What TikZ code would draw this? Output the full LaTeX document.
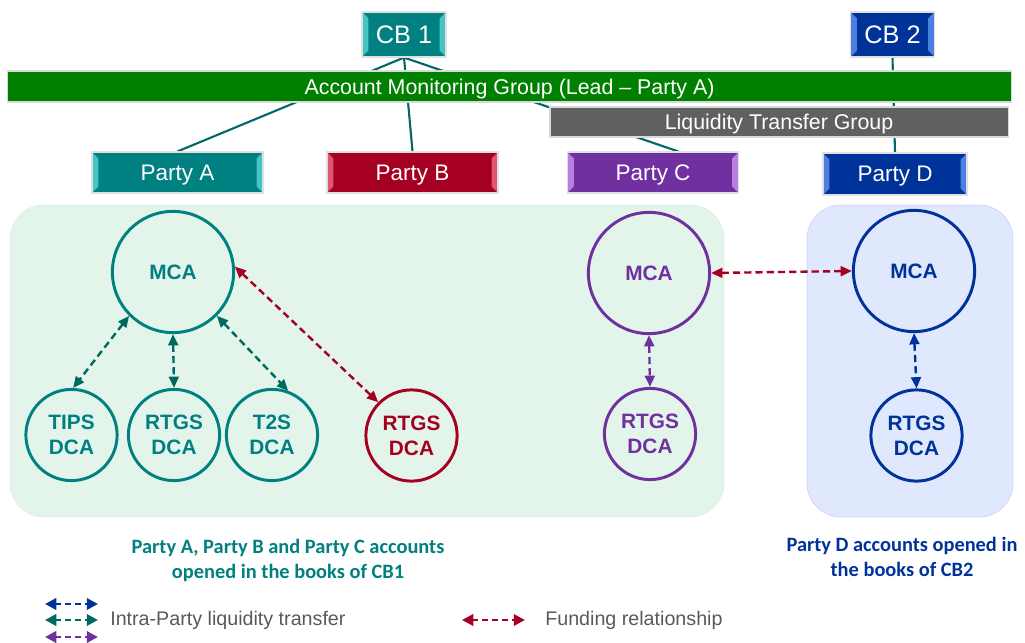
\documentclass[tikz,border=0pt]{standalone}
\usepackage{fontspec}
\setmainfont{Liberation Sans}
\newfontfamily\calfont{Carlito}
\usepackage{tikz}
\usetikzlibrary{arrows.meta}
\usetikzlibrary{positioning}
\usetikzlibrary{backgrounds}

\definecolor{tealA}{HTML}{008080}
\definecolor{tealLight}{HTML}{45C4C4}
\definecolor{tealLine}{HTML}{006868}
\definecolor{tealArr}{HTML}{00695F}
\definecolor{redB}{HTML}{A50021}
\definecolor{redLight}{HTML}{E0566E}
\definecolor{purpC}{HTML}{7030A0}
\definecolor{purpLight}{HTML}{B77FE0}
\definecolor{blueD}{HTML}{003399}
\definecolor{blueLight}{HTML}{4D7FE0}
\definecolor{amgGreen}{HTML}{008000}
\definecolor{ltgGray}{HTML}{606060}
\definecolor{panelGreen}{HTML}{E3F5EB}
\definecolor{panelBlue}{HTML}{DFE8FC}
\definecolor{legendGray}{HTML}{595959}

\tikzset{
  bevelbox/.style 2 args={draw=black!12, line width=0.8pt, fill=#1, text=white, inner sep=0pt,
    text depth=0pt,
    path picture={
      \fill[#2] (path picture bounding box.north west) -- ++(4.5pt,-4.5pt)
        -- ([shift={(4.5pt,4.5pt)}]path picture bounding box.south west)
        -- (path picture bounding box.south west) -- cycle;
      \fill[#2] (path picture bounding box.north east) -- ++(-4.5pt,-4.5pt)
        -- ([shift={(-4.5pt,4.5pt)}]path picture bounding box.south east)
        -- (path picture bounding box.south east) -- cycle;
    }},
  cbbox/.style 2 args={bevelbox={#1}{#2}, minimum width=2.1cm, minimum height=1.125cm,
    font=\fontsize{18}{20}\selectfont},
  partybox/.style 2 args={bevelbox={#1}{#2}, minimum width=4.275cm, minimum height=1.025cm,
    font=\fontsize{16}{19}\selectfont},
  groupbar/.style={draw=black!15, line width=0.8pt, fill=#1, text=white, inner sep=0pt,
    text depth=0pt, font=\fontsize{15.2}{18}\selectfont},
  account/.style={circle, draw=#1, line width=2.1pt, text=#1, align=center, inner sep=0pt,
    font=\bfseries\fontsize{14.8}{17.8}\selectfont},
  mca/.style={account=#1, minimum size=3.03cm},
  dca/.style={account=#1, minimum size=2.28cm},
  flow/.style={draw=#1, line width=1.7pt, dash pattern=on 5pt off 3pt,
    {Triangle[length=8pt,width=7pt]}-{Triangle[length=8pt,width=7pt]}},
  keyflow/.style={draw=#1, line width=2pt, dash pattern=on 4pt off 3pt,
    {Triangle[length=8pt,width=8pt]}-{Triangle[length=8pt,width=8pt]}},
  orgline/.style={draw=tealLine, line width=1.5pt},
  caption/.style={align=center, inner sep=0pt, font=\calfont\bfseries\fontsize{14.5}{17.8}\selectfont},
  keytext/.style={anchor=west, inner sep=0pt, text=legendGray, font=\fontsize{14}{16}\selectfont}
}

\begin{document}
\begin{tikzpicture}[x=0.025cm,y=-0.025cm]
  \useasboundingbox (0,0) rectangle (1025,643);

  \fill[panelGreen, draw=green!50!black!12, line width=0.5pt, rounded corners=0.85cm] (10,205) rectangle (724,517);
  \fill[panelBlue, draw=blue!30!white!60, line width=0.5pt, rounded corners=0.85cm] (807,205) rectangle (1013,517);

  \node[cbbox={tealA}{tealLight}] (cbone) at (404,34.5) {CB 1};
  \node[cbbox={blueD}{blueLight}] (cbtwo) at (892.5,34.5) {CB 2};

  \node[groupbar=amgGreen, minimum width=25.075cm, minimum height=0.775cm] (amg) at (509.5,86.5)
    {Account Monitoring Group (Lead -- Party A)};
  \node[groupbar=ltgGray, minimum width=11.45cm, minimum height=0.75cm] (ltg) at (779,122)
    {Liquidity Transfer Group};

  \node[partybox={tealA}{tealLight}] (partyA) at (177.5,172.5) {Party A};
  \node[partybox={redB}{redLight}] (partyB) at (412.5,172.5) {Party B};
  \node[partybox={purpC}{purpLight}] (partyC) at (653,172.5) {Party C};
  \node[partybox={blueD}{blueLight}, minimum width=3.6cm, minimum height=1.05cm] (partyD) at (895,174) {Party D};

  \begin{scope}[on background layer]
    \draw[orgline] (cbone.south) -- (partyA.north);
    \draw[orgline] (cbone.south) -- (partyB.north);
    \draw[orgline] (cbone.south) -- ([xshift=0.63cm]partyC.north);
    \draw[orgline] (cbtwo.south) -- (partyD.north);
  \end{scope}

  \node[mca=tealA] (mcaA) at (173,272) {MCA};
  \node[dca=tealA] (tipsA) at (71.5,435) {TIPS\\DCA};
  \node[dca=tealA] (rtgsA) at (174,435) {RTGS\\DCA};
  \node[dca=tealA] (t2sA) at (272,435) {T2S\\DCA};
  \node[dca=redB] (rtgsB) at (411.5,435.5) {RTGS\\DCA};
  \node[mca=purpC] (mcaC) at (649,273) {MCA};
  \node[dca=purpC] (rtgsC) at (650,434) {RTGS\\DCA};
  \node[mca=blueD] (mcaD) at (914,271) {MCA};
  \node[dca=blueD] (rtgsD) at (916.5,435.5) {RTGS\\DCA};

  \draw[flow=tealArr] (mcaA.-135) -- (tipsA.88);
  \draw[flow=tealArr] (mcaA.south) -- (rtgsA.north);
  \draw[flow=tealArr] (mcaA.-45) -- (t2sA.70);
  \draw[flow=redB] (mcaA.5) -- (rtgsB.135);
  \draw[flow=purpC] (mcaC.south) -- (rtgsC.north);
  \draw[flow=blueD] (mcaD.south) -- (rtgsD.north);
  \draw[flow=redB] (mcaC.east) -- (mcaD.west);

  \node[caption, text=tealA] (capCBone) at (288,560)
    {Party A, Party B and Party C accounts\\opened in the books of CB1};
  \node[caption, text=blueD] (capCBtwo) at (902,557)
    {Party D accounts opened in\\the books of CB2};

  \coordinate (keyBlueL) at (45,604);   \coordinate (keyBlueR) at (98,604);
  \coordinate (keyTealL) at (45,620);   \coordinate (keyTealR) at (98,620);
  \coordinate (keyPurpL) at (45,637);   \coordinate (keyPurpR) at (98,637);
  \coordinate (keyRedL) at (462,620);   \coordinate (keyRedR) at (525,620);
  \draw[keyflow=blueD] (keyBlueL) -- (keyBlueR);
  \draw[keyflow=tealArr] (keyTealL) -- (keyTealR);
  \draw[keyflow=purpC] (keyPurpL) -- (keyPurpR);
  \draw[keyflow=redB] (keyRedL) -- (keyRedR);
  \node[keytext] (keyIntra) at (110,620) {Intra-Party liquidity transfer};
  \node[keytext] (keyFund) at (545,620) {Funding relationship};
\end{tikzpicture}
\end{document}
